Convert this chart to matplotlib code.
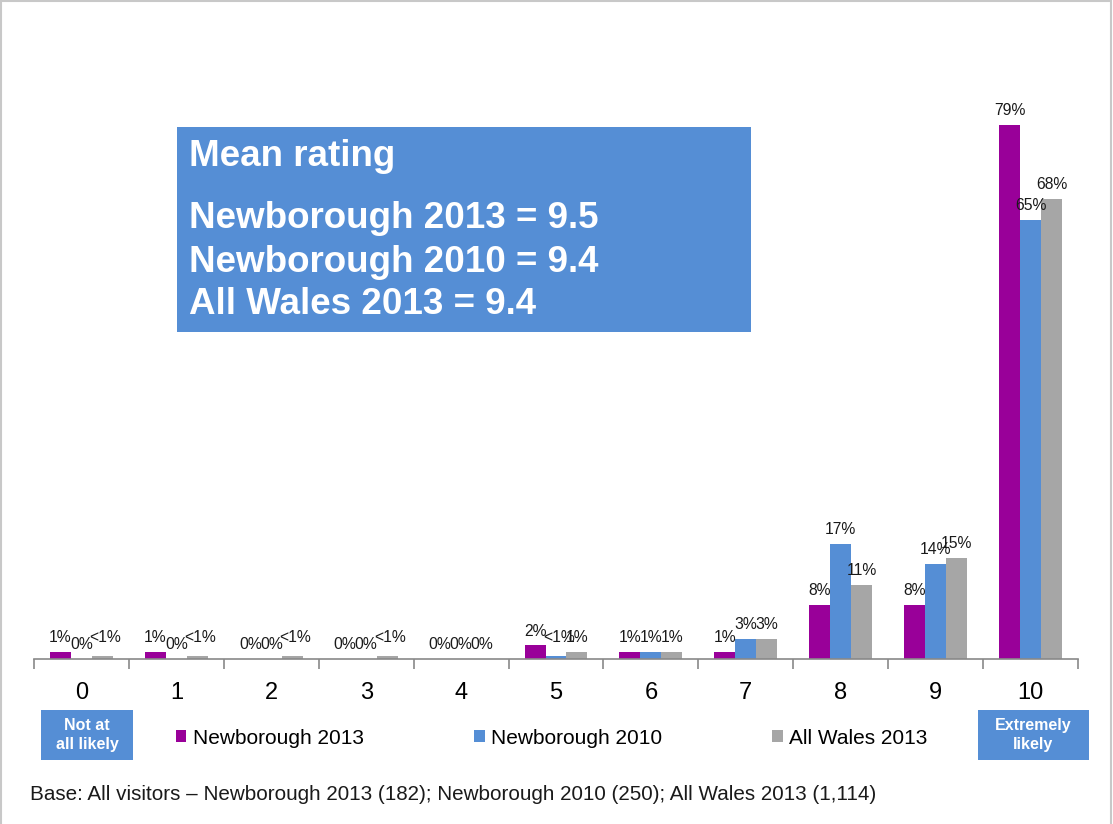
import matplotlib
matplotlib.use("Agg")
import matplotlib.pyplot as plt
from matplotlib.patches import Rectangle
import numpy as np

plt.rcParams['font.family'] = ['Liberation Sans', 'DejaVu Sans']

# Likelihood ratings 0..10
categories = ['0', '1', '2', '3', '4', '5', '6', '7', '8', '9', '10']
series = ['Newborough 2013', 'Newborough 2010', 'All Wales 2013']
# percentages (0.5 stands for "<1%")
nb2013 = [1, 1, 0, 0, 0, 2, 1, 1, 8, 8, 79]
nb2010 = [0, 0, 0, 0, 0, 0.5, 1, 3, 17, 14, 65]
wales2013 = [0.5, 0.5, 0.5, 0.5, 0, 1, 1, 3, 11, 15, 68]
colors = ['#990099', '#558ED5', '#A6A6A6']

mean_lines = ['Newborough 2013 = 9.5', 'Newborough 2010 = 9.4', 'All Wales 2013 = 9.4']
base_note = 'Base: All visitors \u2013 Newborough 2013 (182); Newborough 2010 (250); All Wales 2013 (1,114)'


def pct_label(v):
    if v == 0.5:
        return '<1%'
    return f'{v:g}%'


W, H = 1113, 824
fig = plt.figure(figsize=(W / 100, H / 100), dpi=100)
ax = fig.add_axes([34 / W, 1 - 659 / H, 1044 / W, (659 - 84.4) / H])

x = np.arange(len(categories))
bw = 0.221
for i, (vals, col, name) in enumerate(zip([nb2013, nb2010, wales2013], colors, series)):
    pos = x + (i - 1) * bw
    ax.bar(pos, vals, width=bw, color=col, label=name, edgecolor='none')
    for px, v in zip(pos, vals):
        # "<1%" labels sit a little higher and to the right
        dx, dy = (2, 8) if v == 0.5 else (0, 5)
        ax.annotate(pct_label(v), (px, v), xytext=(dx, dy), textcoords='offset points',
                    ha='center', va='bottom', fontsize=11.3, color='#1a1a1a')

ax.set_xlim(-0.5, len(categories) - 0.5)
ax.set_ylim(0, 85)
for s in ['top', 'right', 'left']:
    ax.spines[s].set_visible(False)
ax.spines['bottom'].set_color('#898989')
ax.spines['bottom'].set_linewidth(1.2)
ax.set_yticks([])
# ticks sit on category boundaries, labels in the middle
ax.set_xticks(np.arange(-0.5, len(categories), 1.0))
ax.set_xticklabels([])
ax.tick_params(axis='x', which='major', length=7, color='#898989', width=1.2)
ax.set_xticks(x, minor=True)
ax.set_xticklabels(categories, minor=True, fontsize=17)
ax.tick_params(axis='x', which='minor', length=0, pad=16.5)

# mean rating panel
fig.patches.append(Rectangle((177 / W, 1 - 332 / H), (751 - 177) / W, (332 - 127) / H,
                             transform=fig.transFigure, facecolor='#558ED5', edgecolor='none'))
fig.text(189 / W, 1 - 157 / H, 'Mean rating', color='white', fontsize=26.5,
         fontweight='bold', va='center', ha='left')
for k, line in enumerate(mean_lines):
    fig.text(189 / W, 1 - (219 + 43 * k) / H, line, color='white', fontsize=26.5,
             fontweight='bold', va='center', ha='left')

# scale end labels
for (x0, x1, txt) in [(41, 133, 'Not at\nall likely'), (978, 1089, 'Extremely\nlikely')]:
    fig.patches.append(Rectangle((x0 / W, 1 - 760 / H), (x1 - x0) / W, 50 / H,
                                 transform=fig.transFigure, facecolor='#558ED5', edgecolor='none'))
    fig.text((x0 + x1) / 2 / W, 1 - 735 / H, txt, color='white', fontsize=11.5,
             fontweight='bold', ha='center', va='center', linespacing=1.3)

fig.legend(loc='center left', bbox_to_anchor=(176 / W, 1 - 738 / H), ncol=3, frameon=False,
           fontsize=15, handlelength=0.5, handleheight=0.5, handletextpad=0.3,
           columnspacing=5.3, borderpad=0, borderaxespad=0)

fig.text(30 / W, 1 - 795 / H, base_note, fontsize=14.9, ha='left', va='center', color='#1a1a1a')

# light frame around the slide
fig.patches.append(Rectangle((0.5 / W, -0.01), (W - 3) / W, 1.0 - 0.5 / H + 0.01,
                             transform=fig.transFigure, facecolor='none',
                             edgecolor='#C8C8C8', linewidth=1.5))

fig.savefig('out.png', dpi=100, facecolor='white')
